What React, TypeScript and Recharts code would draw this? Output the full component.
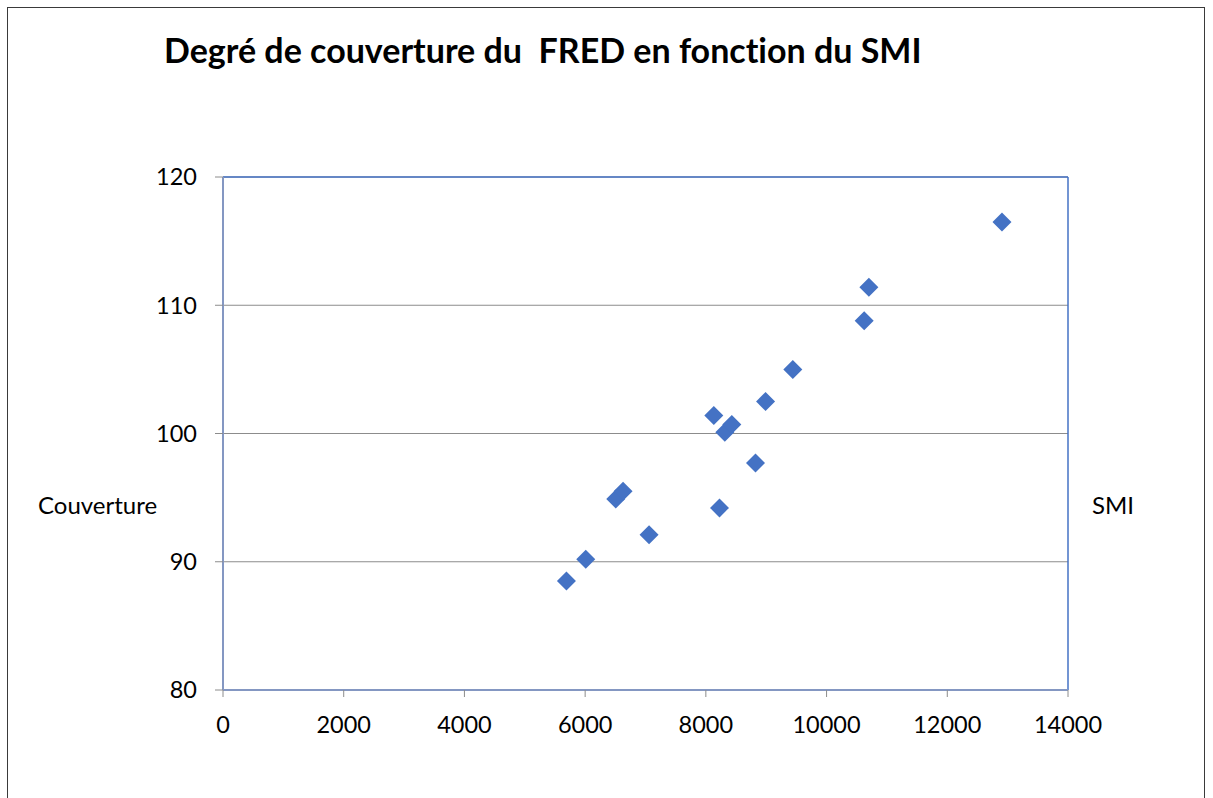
import { ScatterChart, Scatter, XAxis, YAxis, CartesianGrid, ReferenceLine } from 'recharts'

// valeurs
const smi = [5690, 6010, 7059, 6507, 6628, 8226, 8132, 8314, 8430, 8823, 8989, 9441, 10623, 10701, 12906]
const couverture = [88.5, 90.2, 92.1, 94.9, 95.5, 94.2, 101.4, 100.1, 100.7, 97.7, 102.5, 105.0, 108.8, 111.4, 116.5]
const xTicks = [0, 2000, 4000, 6000, 8000, 10000, 12000, 14000]
const yTicks = [80, 90, 100, 110, 120]

const data = smi.map((s, i) => ({ smi: s, couverture: couverture[i] }))

const FONT = 'Lato, "Open Sans", sans-serif'
const BLUE = '#4472C4'

function Diamond(props: any) {
  const { cx, cy } = props
  const r = 9.5
  return <path d={`M${cx},${cy - r} L${cx + r},${cy} L${cx},${cy + r} L${cx - r},${cy} Z`} fill={BLUE} />
}

export default function App() {
  return (
    <div style={{ position: 'absolute', left: 0, top: 0, width: 1213, height: 798, background: '#fff', fontFamily: FONT, fontVariantLigatures: 'none' }}>
      <div style={{ position: 'absolute', left: 7, top: 7, width: 1198, height: 800, border: '1.5px solid #3a3a3a', boxSizing: 'border-box' }} />
      <div style={{ position: 'absolute', left: 164, top: 29, fontSize: 34, fontWeight: 700, color: '#000', whiteSpace: 'pre' }}>
        {'Degré de couverture du  FRED en fonction du SMI'}
      </div>
      <div style={{ position: 'absolute', left: 38, top: 490, fontSize: 24, color: '#000' }}>Couverture</div>
      <div style={{ position: 'absolute', left: 1092, top: 490, fontSize: 24, color: '#000' }}>SMI</div>
      <ScatterChart
        width={1213}
        height={798}
        margin={{ top: 177, right: 145, bottom: 68, left: 163 }}
        style={{ position: 'absolute', left: 0, top: 0 }}
      >
        <CartesianGrid vertical={false} stroke="#8c8c8c" strokeWidth={1.2} />
        <XAxis
          type="number"
          dataKey="smi"
          domain={[0, 14000]}
          ticks={xTicks}
          height={40}
          tickSize={7}
          tickMargin={19}
          interval={0}
          axisLine={{ stroke: '#8497c2', strokeWidth: 2 }}
          tickLine={{ stroke: '#8c8c8c' }}
          tick={{ fill: '#000', fontSize: 23.5, fontFamily: FONT }}
        />
        <YAxis
          type="number"
          dataKey="couverture"
          domain={[80, 120]}
          ticks={yTicks}
          width={60}
          tickSize={8}
          tickMargin={18}
          interval={0}
          axisLine={{ stroke: '#8497c2', strokeWidth: 2 }}
          tickLine={{ stroke: '#8c8c8c' }}
          tick={{ fill: '#000', fontSize: 23.5, fontFamily: FONT }}
        />
        <ReferenceLine y={120} stroke={BLUE} strokeWidth={1.5} />
        <ReferenceLine x={14000} stroke={BLUE} strokeWidth={1.5} />
        <Scatter data={data} shape={Diamond} isAnimationActive={false} />
      </ScatterChart>
    </div>
  )
}
